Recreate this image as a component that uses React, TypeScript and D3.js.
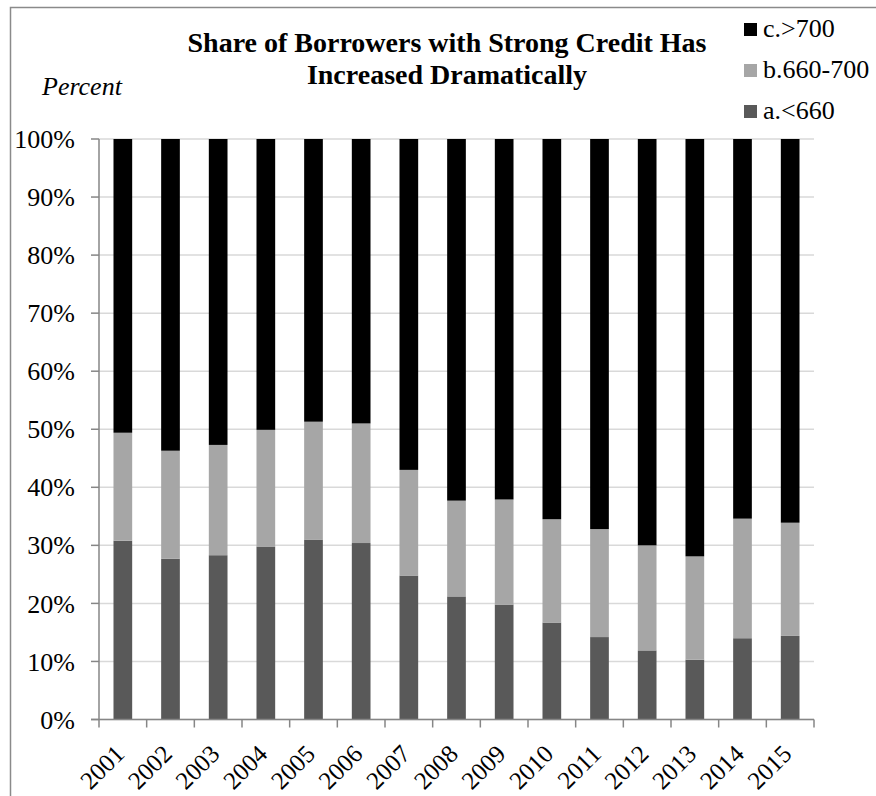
import React from "react";
import * as d3 from "d3";

const years = ["2001","2002","2003","2004","2005","2006","2007","2008","2009","2010","2011","2012","2013","2014","2015"];
// share below 660
const seriesA = [30.8, 27.7, 28.3, 29.8, 31.0, 30.4, 24.8, 21.2, 19.8, 16.7, 14.2, 11.9, 10.3, 14.0, 14.4];
// cumulative top of 660-700 band (a + b)
const cumAB = [49.4, 46.3, 47.3, 49.9, 51.3, 51.0, 43.0, 37.7, 37.9, 34.5, 32.8, 30.0, 28.1, 34.6, 33.9];
const seriesB = cumAB.map((v, i) => +(v - seriesA[i]).toFixed(1));
const seriesC = cumAB.map((v) => +(100 - v).toFixed(1));

const seriesKeys = ["a", "b", "c"];
const seriesLabels = { a: "a.<660", b: "b.660-700", c: "c.>700" };
const colors = { a: "#595959", b: "#a6a6a6", c: "#000000" };
const yTicks = [0, 10, 20, 30, 40, 50, 60, 70, 80, 90, 100];
const titleLines = ["Share of Borrowers with Strong Credit Has", "Increased Dramatically"];

export default function App() {
  const W = 876, H = 796;
  const left = 99, right = 814, top = 139, bottom = 719.5;
  const font = "Liberation Serif, Times New Roman, DejaVu Serif, serif";

  const data = years.map((y, i) => ({ year: y, a: seriesA[i], b: seriesB[i], c: seriesC[i] }));
  const stack = d3.stack<any>().keys(seriesKeys)(data);

  const x = d3.scaleBand().domain(years).range([left, right]).paddingInner(0).paddingOuter(0);
  const y = d3.scaleLinear().domain([0, 100]).range([bottom, top]);
  const barW = x.bandwidth() * 0.392;

  const axisColor = "#868686";
  const legendOrder = ["c", "b", "a"];

  return (
    <svg width={W} height={H} style={{ position: "absolute", left: 0, top: 0, background: "#fff" }} fontFamily={font}>
      <rect x={0} y={0} width={W} height={H} fill="#fff" />
      <rect x={10.5} y={7.5} width={W + 20} height={H + 20} fill="none" stroke="#8a8a8a" strokeWidth={1.5} />

      {/* gridlines */}
      {yTicks.map((t) => (
        <line key={"g" + t} x1={left} x2={right} y1={y(t)} y2={y(t)} stroke="#d9d9d9" strokeWidth={1.5} />
      ))}

      {/* bars */}
      {stack.map((s) => (
        <g key={s.key} fill={(colors as any)[s.key]}>
          {s.map((d, i) => (
            <rect
              key={i}
              x={(x(years[i]) as number) + (x.bandwidth() - barW) / 2}
              y={y(d[1])}
              width={barW}
              height={y(d[0]) - y(d[1])}
            />
          ))}
        </g>
      ))}

      {/* y axis */}
      <line x1={left} x2={left} y1={top} y2={bottom} stroke={axisColor} strokeWidth={1.5} />
      {yTicks.map((t) => (
        <g key={"yt" + t}>
          <line x1={left - 8} x2={left} y1={y(t)} y2={y(t)} stroke={axisColor} strokeWidth={1.5} />
          <text x={75} y={y(t)} dy="0.35em" textAnchor="end" fontSize={26} fill="#000">
            {t + "%"}
          </text>
        </g>
      ))}

      {/* x axis */}
      <line x1={left - 8} x2={right} y1={bottom} y2={bottom} stroke={axisColor} strokeWidth={1.5} />
      {d3.range(years.length + 1).map((i) => {
        const xx = left + i * x.bandwidth();
        return <line key={"xt" + i} x1={xx} x2={xx} y1={bottom} y2={bottom + 8} stroke={axisColor} strokeWidth={1.5} />;
      })}
      {years.map((yr) => {
        const cx = (x(yr) as number) + x.bandwidth() / 2;
        return (
          <text key={"xl" + yr} transform={`translate(${cx + 3},${bottom + 36}) rotate(-45)`} textAnchor="end" fontSize={25} fill="#000">
            {yr}
          </text>
        );
      })}

      {/* title */}
      <text x={447} y={52} textAnchor="middle" fontSize={28} fontWeight="bold" fill="#000">{titleLines[0]}</text>
      <text x={447} y={83.5} textAnchor="middle" fontSize={28} fontWeight="bold" fill="#000">{titleLines[1]}</text>

      {/* Percent label */}
      <text x={42} y={95} fontSize={26} fontStyle="italic" fill="#000">Percent</text>

      {/* legend */}
      {legendOrder.map((k, i) => {
        const by = 37 + i * 41;
        return (
          <g key={"lg" + k}>
            <rect x={744} y={by - 14} width={13} height={13} fill={(colors as any)[k]} />
            <text x={763} y={by} fontSize={26} fill="#000">{(seriesLabels as any)[k]}</text>
          </g>
        );
      })}
    </svg>
  );
}
